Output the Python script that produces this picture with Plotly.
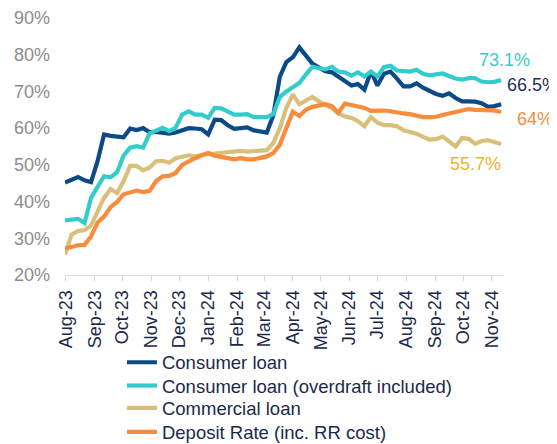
import pandas as pd
import plotly.graph_objects as go

dates = pd.date_range("2023-07-31", periods=68, freq="7D")

consumer_loan = [
    45.2, 46.0, 46.7, 45.8, 45.3, 51.0, 58.3, 57.9, 57.8, 57.5,
    59.9, 59.5, 60.0, 58.9, 59.0, 58.8, 58.5, 58.8, 59.5, 60.0,
    59.9, 59.7, 58.3, 62.3, 62.2, 60.8, 59.8, 60.0, 60.2, 59.4,
    59.0, 58.8, 63.5, 74.0, 78.0, 79.3, 82.0, 80.0, 77.6, 76.5,
    75.5, 75.2, 74.0, 72.5, 71.6, 72.0, 70.5, 75.5, 71.6, 74.8,
    75.4, 73.5, 71.4, 71.4, 72.2, 71.0, 70.0, 69.3, 68.8, 69.5,
    68.2, 67.3, 67.3, 67.2, 66.8, 65.8, 66.0, 66.5,
]
consumer_loan_od = [
    34.9, 35.1, 35.3, 34.2, 41.0, 44.0, 46.9, 46.6, 48.0, 52.5,
    54.7, 55.1, 54.7, 58.6, 59.5, 60.1, 59.2, 60.1, 63.7, 64.6,
    63.7, 63.7, 62.8, 65.5, 65.4, 64.4, 63.7, 63.7, 63.8, 63.0,
    63.0, 63.0, 63.8, 68.5, 70.0, 71.0, 72.3, 74.6, 76.7, 76.3,
    76.0, 76.7, 75.4, 75.2, 74.3, 75.2, 74.1, 75.4, 74.1, 76.6,
    77.0, 75.7, 75.5, 75.4, 75.9, 74.8, 74.4, 74.6, 74.9, 74.2,
    73.5, 73.2, 73.6, 73.6, 72.7, 72.5, 72.6, 73.1,
]
commercial_loan = [
    25.5, 31.0, 32.0, 32.2, 33.5, 37.5, 41.0, 43.4, 42.3, 45.5,
    49.7, 49.7, 48.5, 49.3, 51.0, 51.1, 50.6, 51.8, 52.3, 52.6,
    52.3, 52.8, 53.0, 53.1, 53.3, 53.6, 53.8, 53.8, 53.6, 53.8,
    53.9, 54.0, 56.0, 60.0, 65.5, 69.2, 66.5, 67.5, 68.5, 67.3,
    66.3, 65.4, 64.0, 63.2, 62.8, 61.9, 60.5, 63.0, 61.5, 60.8,
    60.8, 60.5, 59.4, 59.0, 58.5, 57.6, 56.9, 57.0, 57.7, 56.4,
    55.0, 57.3, 57.1, 55.7, 56.5, 56.7, 56.3, 55.7,
]
deposit_rate = [
    27.2, 27.7, 28.1, 28.2, 30.5, 34.3, 35.9, 38.5, 39.9, 42.0,
    42.5, 43.0, 42.6, 42.9, 45.6, 46.9, 47.0, 47.8, 50.0, 51.0,
    51.8, 52.6, 53.2, 52.5, 52.1, 51.7, 51.5, 51.8, 51.5, 51.5,
    51.8, 52.3, 53.2, 55.5, 60.0, 64.5, 63.3, 65.0, 65.8, 66.1,
    66.5, 66.0, 64.2, 66.7, 66.3, 65.9, 65.5, 64.7, 64.8, 64.8,
    64.6, 64.2, 64.0, 63.8, 63.5, 63.0, 63.0, 63.1, 63.6, 64.0,
    64.3, 64.8, 65.2, 65.0, 65.0, 64.9, 64.8, 64.4,
]

series_names = [
    "Consumer loan",
    "Consumer loan (overdraft included)",
    "Commercial loan",
    "Deposit Rate (inc. RR cost)",
]
series_values = [consumer_loan, consumer_loan_od, commercial_loan, deposit_rate]
end_labels = ["66.5%", "73.1%", "55.7%", "64%"]

line_colors = ["#0b4a86", "#33cccc", "#d9c07a", "#f78c3c"]
label_colors = ["#1f2f5f", "#33cccc", "#ebb52c", "#f78c3c"]
# (xanchor, xshift, yshift) for end labels
label_pos = [("left", 4, 19), ("center", 3, 20), ("right", 2, -20), ("left", 14, -7)]
legend_ids = ["legend", "legend2", "legend3", "legend4"]
legend_rows_px = [362.7, 386.0, 408.3, 432.3]   # row centres in page pixels

FONT = "Arial, Liberation Sans, sans-serif"

fig = go.Figure()
for name, vals, col, lg in zip(series_names, series_values, line_colors, legend_ids):
    fig.add_trace(go.Scatter(
        x=dates, y=vals, mode="lines", name=name, legend=lg,
        line=dict(color=col, width=4.2),
    ))

for vals, txt, col, (xa, xs, ys) in zip(series_values, end_labels, label_colors, label_pos):
    fig.add_annotation(
        x=dates[-1], y=vals[-1], xref="x", yref="y", text=txt, showarrow=False,
        xanchor=xa, yanchor="middle", xshift=xs, yshift=ys,
        font=dict(family=FONT, size=18, color=col),
    )

# the page body adds an 8px offset, so the figure is sized 8px smaller
TOP, BOT = 10, 169
plot_top_px, plot_bot_px = 8 + TOP, 8 + 436 - BOT
plot_h = plot_bot_px - plot_top_px

legend_style = dict(
    x=0.130, xanchor="left", yanchor="middle",
    font=dict(family=FONT, size=18.5, color="#1b2a4a"),
    bgcolor="rgba(0,0,0,0)", borderwidth=0,
)
layout_legends = {
    lg: dict(y=(plot_bot_px - py) / plot_h, **legend_style)
    for lg, py in zip(legend_ids, legend_rows_px)
}

fig.update_layout(
    width=549, height=436,
    margin=dict(l=57, r=54, t=TOP, b=BOT, autoexpand=False),
    paper_bgcolor="white", plot_bgcolor="white",
    font=dict(family=FONT),
    showlegend=True,
    **layout_legends,
)
fig.update_xaxes(
    type="date",
    range=["2023-07-31", "2024-11-13"],
    tick0="2023-08-01", dtick="M1", tickformat="%b-%y",
    tickangle=-90,
    tickfont=dict(family=FONT, size=18, color="#1b2a4a"),
    showline=True, linecolor="#d9d9d9", linewidth=1,
    ticks="outside", ticklen=5, tickcolor="#d9d9d9",
    showgrid=False, zeroline=False, automargin=False,
    ticklabelstandoff=2,
)
fig.update_yaxes(
    range=[20, 90], dtick=10, ticksuffix="%",
    tickfont=dict(family=FONT, size=18, color="#8c8c8c"),
    showgrid=False, zeroline=False, showline=False,
    ticklabelstandoff=14, automargin=False,
    ticklabeloverflow="allow",
)

fig.write_html("out.html")
